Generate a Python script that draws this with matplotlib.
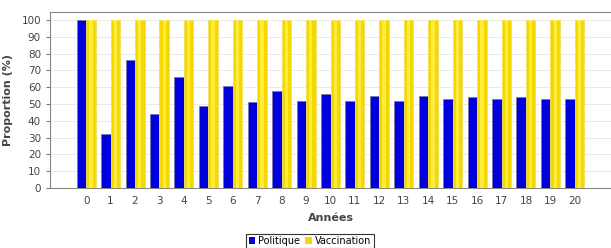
import matplotlib.pyplot as plt
import numpy as np

# données
annees = list(range(0, 21))
politique = [100, 32, 76, 44, 66, 49, 61, 51, 58, 52, 56, 52, 55, 52, 55, 53, 54, 53, 54, 53, 53]
vaccination = [100] * 21

plt.rcParams['font.family'] = 'DejaVu Sans'
plt.rcParams['font.size'] = 7

fig = plt.figure(figsize=(6.11, 2.48), dpi=100, facecolor='white')
ax = fig.add_axes([50 / 611, 1 - 188 / 248, 1 - 50 / 611, 176 / 248])

x = np.arange(len(annees))
w = 0.39
ax.bar(x - w / 2, politique, width=w, color='#0000dd', edgecolor='#7777aa',
       linewidth=0.6, zorder=3, label='Politique')
ax.bar(x + w / 2, vaccination, width=w, color='#f7d700', edgecolor='#f0e060',
       linewidth=0.6, zorder=3, label='Vaccination')
# reflet clair au centre des barres jaunes
ax.bar(x + w / 2, vaccination, width=w * 0.35, color='#ffeb3a', linewidth=0, zorder=4)

ax.set_xlim(-1.48, len(annees) - 1 + 1.48)
ax.set_ylim(0, 104.8)
ax.set_yticks(range(0, 101, 10))
ax.set_xticks(x)
ax.set_xticklabels([str(a) for a in annees])
ax.tick_params(axis='both', colors='#555555', labelcolor='#444444', length=3, width=0.6,
               labelsize=7.5)
ax.tick_params(axis='x', length=0, pad=6)
ax.grid(axis='y', color='#e6e6e6', linewidth=0.6, zorder=0)

for s in ['left', 'top', 'bottom']:
    ax.spines[s].set_color('#888888')
    ax.spines[s].set_linewidth(0.8)
ax.spines['right'].set_visible(False)

ax.set_ylabel('Proportion (%)', fontsize=8, fontweight='bold', color='#444444', labelpad=6)
ax.set_xlabel('Années', fontsize=8, fontweight='bold', color='#444444', labelpad=5)

leg = fig.legend(loc='center', bbox_to_anchor=(310 / 611, 1 - 241 / 248), ncol=2,
                 frameon=True, fancybox=False, fontsize=7, handlelength=0.7,
                 handleheight=0.7, handletextpad=0.3, columnspacing=0.5,
                 borderpad=0.25, borderaxespad=0)
leg.get_frame().set_edgecolor('black')
leg.get_frame().set_linewidth(0.8)
for h in leg.legend_handles:
    h.set_edgecolor('none')

fig.savefig('out.png', dpi=100, facecolor='white')
plt.close()
